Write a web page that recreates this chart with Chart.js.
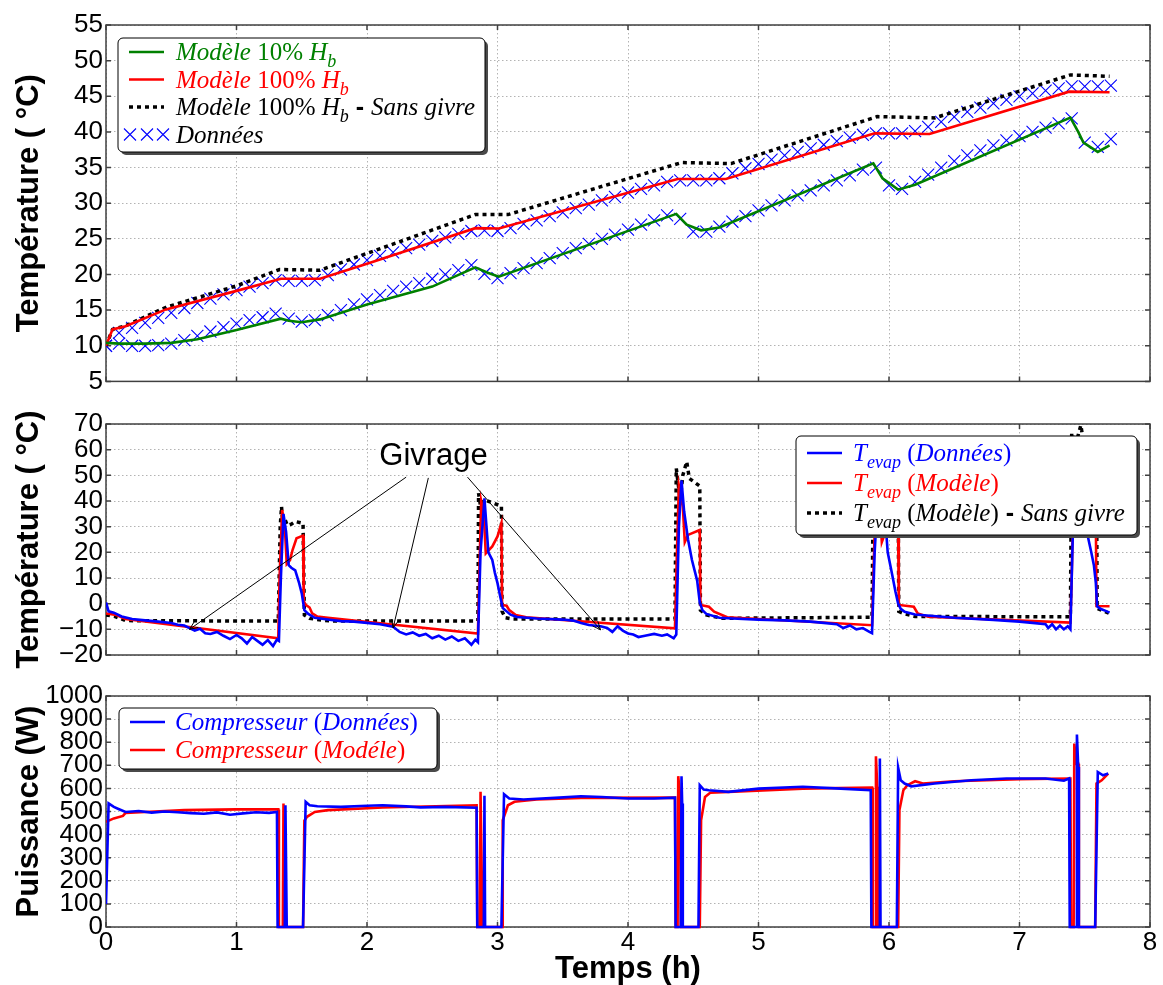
<!DOCTYPE html>
<html>
<head>
<meta charset="utf-8">
<script src="https://cdn.jsdelivr.net/npm/chart.js@4.4.1/dist/chart.umd.min.js"></script>
<style>
  body { margin: 0; background: #fff; }
  #wrap { position: relative; width: 1163px; height: 985px; }
  canvas { position: absolute; left: 0; }
</style>
</head>
<body>
<div id="wrap">
  <canvas id="top" width="1163" height="400" style="top:0px"></canvas>
  <canvas id="mid" width="1163" height="290" style="top:390px"></canvas>
  <canvas id="bot" width="1163" height="315" style="top:670px"></canvas>
</div>
<script>
// ---- tick labels ----
const hourTicks = [0, 1, 2, 3, 4, 5, 6, 7, 8];
const condTicks = [5, 10, 15, 20, 25, 30, 35, 40, 45, 50, 55];
const evapTicks = [-20, -10, 0, 10, 20, 30, 40, 50, 60, 70];
const powerTicks = [0, 100, 200, 300, 400, 500, 600, 700, 800, 900, 1000];

// ---- top panel: temperature ----
const model10Hours = [0, 0.1, 0.3, 0.5, 0.7, 1.0, 1.34, 1.4, 1.5, 1.64, 2.0, 2.5, 2.83, 2.93, 3.01, 4.37, 4.45, 4.56, 4.7, 5.88, 5.95, 6.07, 6.2, 7.39, 7.45, 7.49, 7.6, 7.69];
const model10 = [10.4, 10.3, 10.3, 10.4, 10.9, 12.2, 13.8, 13.5, 13.3, 13.7, 15.8, 18.3, 21.0, 20.2, 19.7, 28.5, 27.0, 26.2, 26.6, 35.6, 33.5, 31.9, 32.6, 42.0, 40.0, 38.5, 37.2, 38.1];

const model100Hours = [0, 0.05, 0.15, 0.46, 1.0, 1.34, 1.64, 2.0, 2.83, 3.01, 4.38, 4.75, 5.89, 6.31, 7.38, 7.69];
const model100 = [10.0, 12.3, 12.75, 15.1, 17.7, 19.4, 19.4, 21.5, 26.5, 26.45, 33.4, 33.4, 39.8, 39.7, 45.65, 45.56];

const noFrostHours = [0, 0.05, 0.15, 0.46, 1.0, 1.33, 1.64, 2.83, 3.08, 4.41, 4.79, 5.91, 6.35, 7.39, 7.69];
const noFrost = [10.0, 12.3, 12.8, 15.4, 18.4, 20.7, 20.6, 28.4, 28.4, 35.7, 35.56, 42.15, 41.96, 48.0, 47.8];

const dataHours = [0, 0.1, 0.2, 0.3, 0.4, 0.5, 0.6, 0.7, 0.8, 0.9, 1.0, 1.1, 1.2, 1.3, 1.4, 1.5, 1.6, 1.7, 1.8, 1.9,
  2.0, 2.1, 2.2, 2.3, 2.4, 2.5, 2.6, 2.7, 2.8, 2.9, 3.0, 3.1, 3.2, 3.3, 3.4, 3.5, 3.6, 3.7, 3.8, 3.9,
  4.0, 4.1, 4.2, 4.3, 4.4, 4.5, 4.6, 4.7, 4.8, 4.9, 5.0, 5.1, 5.2, 5.3, 5.4, 5.5, 5.6, 5.7, 5.8, 5.9,
  6.0, 6.1, 6.2, 6.3, 6.4, 6.5, 6.6, 6.7, 6.8, 6.9, 7.0, 7.1, 7.2, 7.3, 7.4, 7.5, 7.6, 7.7];
const dataHigh = [10.0, 11.8, 12.5, 13.2, 13.9, 14.6, 15.3, 16.0, 16.6, 17.2, 17.8, 18.3, 18.8, 19.2, 19.1, 19.1, 19.2, 19.9, 20.7, 21.4,
  22.0, 22.6, 23.1, 23.7, 24.2, 24.7, 25.2, 25.7, 26.1, 26.2, 26.1, 26.5, 27.1, 27.6, 28.2, 28.7, 29.3, 29.8, 30.4, 30.9,
  31.5, 32.0, 32.5, 33.0, 33.2, 33.2, 33.2, 33.5, 34.2, 34.9, 35.5, 36.1, 36.7, 37.2, 37.7, 38.2, 38.7, 39.2, 39.6, 39.8,
  39.8, 39.8, 40.1, 40.7, 41.4, 42.1, 42.8, 43.4, 44.0, 44.5, 45.0, 45.4, 45.8, 46.1, 46.4, 46.4, 46.4, 46.5];
const dataLow = [10.0, 10.3, 10.0, 10.0, 10.1, 10.3, 10.8, 11.4, 12.0, 12.6, 13.1, 13.6, 14.0, 14.5, 13.8, 13.4, 13.6, 14.3, 15.0, 15.8,
  16.5, 17.1, 17.7, 18.3, 18.8, 19.4, 20.0, 20.6, 21.3, 20.1, 19.5, 20.2, 20.9, 21.6, 22.3, 23.0, 23.7, 24.3, 25.0, 25.6,
  26.3, 27.0, 27.6, 28.3, 27.8, 26.0, 26.0, 26.7, 27.4, 28.2, 29.0, 29.7, 30.4, 31.1, 31.8, 32.5, 33.2, 33.9, 34.7, 35.0,
  32.5, 32.0, 33.0, 34.0, 35.0, 35.9, 36.7, 37.4, 38.1, 38.8, 39.4, 40.0, 40.6, 41.2, 41.9, 38.5, 37.9, 39.0];

// ---- middle panel: evaporator temperature ----
const evapDataHours = [0, 0.02, 0.06, 0.12, 0.2, 0.3, 0.4, 0.5, 0.55, 0.6, 0.64, 0.68, 0.72, 0.76, 0.8, 0.85, 0.9, 0.95, 1.0, 1.04,
  1.08, 1.12, 1.16, 1.2, 1.24, 1.28, 1.31, 1.325, 1.34, 1.36, 1.38, 1.4, 1.42, 1.45, 1.48, 1.5, 1.52, 1.55, 1.6, 1.7,
  1.8, 1.9, 2.0, 2.1, 2.2, 2.25, 2.3, 2.35, 2.4, 2.45, 2.5, 2.55, 2.6, 2.65, 2.7, 2.75, 2.8, 2.83, 2.85, 2.87,
  2.9, 2.93, 2.96, 2.98, 3.0, 3.02, 3.04, 3.07, 3.1, 3.15, 3.3, 3.5, 3.58, 3.64, 3.7, 3.79, 3.84, 3.88, 3.92, 3.96,
  4.0, 4.04, 4.08, 4.13, 4.2, 4.26, 4.3, 4.35, 4.37, 4.39, 4.41, 4.43, 4.46, 4.49, 4.53, 4.55, 4.57, 4.6, 4.7, 4.8,
  5.0, 5.2, 5.4, 5.5, 5.6, 5.65, 5.7, 5.75, 5.8, 5.85, 5.87, 5.89, 5.92, 5.95, 5.98, 5.99, 6.02, 6.05, 6.07, 6.09,
  6.12, 6.2, 6.5, 6.8, 7.0, 7.1, 7.2, 7.22, 7.25, 7.28, 7.31, 7.34, 7.37, 7.39, 7.41, 7.43, 7.46, 7.5, 7.52, 7.55,
  7.57, 7.585, 7.595, 7.62, 7.66, 7.69];
const evapData = [0.5, -3.0, -3.5, -5.0, -6.0, -6.5, -7.0, -7.5, -8.2, -8.5, -9.5, -10.5, -9.8, -11.5, -11.8, -11.0, -12.5, -13.8, -12.2, -13.5,
  -15.5, -13.0, -14.5, -16.0, -14.2, -16.5, -14.0, -14.5, 10.0, 35.0, 28.0, 15.0, 14.0, 13.0, 8.0, 4.0, -2.5, -4.0, -5.5, -6.2,
  -6.8, -7.0, -7.5, -8.0, -9.0, -11.0, -12.0, -11.2, -12.5, -11.8, -13.5, -12.5, -14.0, -12.8, -14.5, -13.5, -16.0, -14.0, -15.0, 20.0,
  41.0, 20.0, 17.0, 12.0, 8.0, 3.0, -1.7, -3.0, -4.3, -5.2, -5.8, -6.2, -6.6, -7.5, -8.3, -8.8, -9.5, -11.0, -8.8, -10.5,
  -11.6, -12.0, -13.0, -12.5, -11.8, -12.5, -12.0, -13.5, -12.0, 30.0, 48.0, 36.0, 25.0, 17.0, 9.0, 0.5, -2.5, -4.0, -5.5, -5.8,
  -6.2, -6.5, -7.0, -7.5, -8.0, -9.5, -8.5, -10.0, -9.5, -11.0, -11.5, 20.0, 47.0, 40.0, 27.0, 20.0, 12.4, 4.6, 0.0, -2.0,
  -3.2, -4.2, -5.5, -6.3, -7.0, -7.5, -8.0, -9.5, -8.0, -10.0, -8.5, -10.0, -8.8, -10.0, 30.0, 55.0, 48.0, 34.0, 27.0, 20.0,
  15.0, 8.0, -1.0, -2.0, -2.8, -3.5];

const evapModelHours = [0, 0.08, 0.15, 1.32, 1.33, 1.35, 1.37, 1.385, 1.41, 1.43, 1.46, 1.51, 1.515, 1.53, 1.56, 1.58, 1.62, 1.7,
  2.85, 2.86, 2.875, 2.895, 2.91, 2.96, 3.0, 3.03, 3.035, 3.07, 3.09, 3.14, 3.22,
  4.36, 4.375, 4.39, 4.42, 4.435, 4.46, 4.55, 4.555, 4.62, 4.66, 4.76,
  5.87, 5.88, 5.9, 5.93, 5.945, 5.97, 6.07, 6.075, 6.19, 6.22, 6.3,
  7.39, 7.40, 7.42, 7.45, 7.465, 7.49, 7.585, 7.59, 7.69];
const evapModel = [-3.8, -4.4, -6.0, -13.5, 10, 36.5, 30, 15.5, 17, 21, 25.5, 26.5, 1.0, -0.5, -1.5, -3.8, -5.0, -5.5,
  -11.6, 10, 40, 35, 19.6, 22.3, 26.2, 31.4, -0.5, -0.8, -2.5, -4.4, -5.3,
  -9.6, 20, 46.0, 37.8, 24.0, 26.8, 28.7, -0.5, -1.2, -3.1, -5.3,
  -8.4, 10, 45.0, 37.0, 24.0, 27.5, 29.0, -0.5, -1.2, -3.8, -5.1,
  -7.4, 10, 58.0, 48.0, 30.0, 32.0, 34.0, -0.9, -1.0];

const evapNoFrostHours = [0, 0.07, 0.15, 1.32, 1.335, 1.345, 1.355, 1.37, 1.39, 1.42, 1.45, 1.51, 1.52, 1.56, 1.65, 1.75,
  2.85, 2.855, 2.87, 2.9, 2.95, 3.03, 3.035, 3.06, 3.12,
  4.36, 4.37, 4.40, 4.42, 4.45, 4.47, 4.55, 4.555, 4.6, 4.72,
  5.87, 5.88, 5.9, 5.93, 5.96, 6.07, 6.075, 6.11, 6.2,
  7.39, 7.40, 7.43, 7.47, 7.5, 7.55, 7.59, 7.595, 7.69];
const evapNoFrost = [-4.4, -5.0, -6.6, -6.8, 30, 37.8, 31, 33, 30.5, 31, 32, 31.3, -4.4, -5.7, -6.4, -6.8,
  -6.8, 43, 38, 40.5, 39.5, 38, -3.0, -5.5, -6.0,
  -6.0, 52.7, 40.4, 50, 55.3, 48.8, 45.8, -2.5, -4.4, -5.7,
  -5.3, 50, 42, 55, 48, 45, -3.0, -3.8, -5.0,
  -5.1, 66.5, 62, 69.5, 60, 55, 52, -1.8, -3.8];

// ---- "Givrage" annotation ----
const givrageLabel = [2.51, 57.2];
const givrageFromHours = [2.3, 2.47, 2.77];
const givrageFromTemps = [49.3, 49.0, 49.3];
const givrageToHours = [0.64, 2.2, 3.79];
const givrageToTemps = [-10.0, -9.5, -10.2];

// ---- bottom panel: compressor power ----
const powerDataHours = [0, 0.02, 0.06, 0.1, 0.15, 0.25, 0.35, 0.45, 0.55, 0.65, 0.75, 0.85, 0.95, 1.05, 1.15, 1.25, 1.31, 1.315, 1.37, 1.375,
  1.385, 1.51, 1.53, 1.56, 1.62, 1.8, 2.0, 2.12, 2.3, 2.41, 2.6, 2.84, 2.845, 2.895, 2.9, 2.905, 3.03, 3.05, 3.09, 3.2,
  3.44, 3.64, 3.8, 4.0, 4.2, 4.36, 4.365, 4.405, 4.41, 4.415, 4.42, 4.54, 4.55, 4.58, 4.62, 4.77, 5.0, 5.34, 5.63, 5.86,
  5.865, 5.925, 5.93, 5.935, 6.06, 6.07, 6.09, 6.12, 6.17, 6.35, 6.63, 6.9, 7.2, 7.34, 7.38, 7.385, 7.435, 7.44, 7.45, 7.455,
  7.58, 7.6, 7.64, 7.68];
const powerData = [100, 535, 520, 510, 498, 502, 495, 500, 497, 493, 490, 496, 486, 492, 497, 494, 498, 0, 0, 527,
  0, 0, 542, 527, 523, 520, 525, 527, 522, 518, 520, 516, 0, 0, 568, 0, 0, 575, 556, 552,
  559, 566, 563, 556, 556, 560, 0, 0, 653, 535, 0, 0, 614, 595, 592, 585, 599, 607, 599, 592,
  0, 0, 729, 0, 0, 690, 635, 621, 609, 621, 635, 643, 643, 633, 643, 0, 0, 833, 693, 0,
  0, 671, 657, 664];

const powerModelHours = [0, 0.06, 0.13, 0.15, 0.3, 0.6, 1.0, 1.32, 1.325, 1.355, 1.36, 1.365, 1.51, 1.52, 1.54, 1.6, 1.7, 2.12, 2.84, 2.845,
  2.865, 2.87, 2.885, 3.035, 3.04, 3.08, 3.13, 3.3, 3.64, 4.36, 4.365, 4.38, 4.385, 4.4, 4.405, 4.55, 4.56, 4.59, 4.63, 4.77,
  5.34, 5.87, 5.875, 5.895, 5.9, 5.91, 5.915, 6.07, 6.08, 6.11, 6.14, 6.2, 6.26, 6.5, 7.0, 7.39, 7.395, 7.415, 7.42, 7.435,
  7.45, 7.455, 7.58, 7.59, 7.63, 7.68];
const powerModel = [455, 470, 481, 494, 498, 506, 509, 509, 0, 0, 535, 0, 0, 460, 477, 498, 506, 517, 527, 0,
  0, 585, 0, 0, 462, 527, 542, 552, 559, 560, 0, 0, 653, 560, 0, 0, 462, 563, 581, 585,
  599, 604, 0, 0, 739, 607, 0, 0, 506, 592, 614, 631, 621, 631, 640, 643, 0, 0, 794, 707,
  707, 0, 0, 621, 635, 664];

// ---- styling ----
const SANS = '"Liberation Sans", Arial, sans-serif';
const SERIF = '"Liberation Serif", "Times New Roman", serif';
const GRID = '#b3b3b3';
const AXIS_LEFT = 106;
const PAD_RIGHT = 13;
const GREEN = '#008000', RED = '#ff0000', BLUE = '#0000ff', BLACK = '#000000';

Chart.defaults.font.family = SANS;
Chart.defaults.color = '#000';

function pts(xs, ys) {
  return xs.map((x, i) => ({ x: x, y: ys[i] }));
}

function lineSet(label, xs, ys, color, width, dash) {
  return {
    label: label, data: pts(xs, ys), borderColor: color, backgroundColor: color,
    borderWidth: width, borderDash: dash || [], pointRadius: 0, tension: 0, fill: false
  };
}

function markerSet(label, xs, ys) {
  return {
    label: label, data: pts(xs, ys), showLine: false, borderColor: BLUE, backgroundColor: BLUE,
    pointStyle: 'crossRot', pointRadius: 8.5, pointBorderWidth: 1.1
  };
}

function yAxis(ticks, title) {
  return {
    type: 'linear', position: 'left', min: ticks[0], max: ticks[ticks.length - 1],
    afterBuildTicks: s => { s.ticks = ticks.map(v => ({ value: v })); },
    afterFit: s => { s.width = AXIS_LEFT; },
    grid: { color: GRID, lineWidth: 1, drawTicks: false },
    border: { display: false, dash: [1.5, 2.5] },
    ticks: {
      autoSkip: false, padding: 3, font: { size: 26 },
      callback: v => String(v).replace('-', '\u2212')
    },
    title: { display: true, text: title, font: { size: 31, weight: 'bold' }, padding: { top: 11, bottom: 0 } }
  };
}

function xAxis(showLabels, height) {
  return {
    type: 'linear', min: 0, max: 8,
    afterBuildTicks: s => { s.ticks = hourTicks.map(v => ({ value: v })); },
    afterFit: s => { s.height = height; },
    grid: { color: GRID, lineWidth: 1, drawTicks: false },
    border: { display: false, dash: [1.5, 2.5] },
    ticks: { display: showLabels, autoSkip: false, maxRotation: 0, padding: 0, font: { size: 26 } },
    title: { display: showLabels, text: 'Temps (h)', font: { size: 31, weight: 'bold', lineHeight: 1.0 }, padding: 0 }
  };
}

// axes box with inward ticks, drawn under the curves
const framePlugin = {
  id: 'frame',
  beforeDatasetsDraw(chart) {
    const { ctx, chartArea: a, scales } = chart;
    ctx.save();
    ctx.strokeStyle = '#404040';
    ctx.lineWidth = 1.5;
    ctx.beginPath();
    scales.x.ticks.forEach(t => {
      const px = scales.x.getPixelForValue(t.value);
      ctx.moveTo(px, a.bottom); ctx.lineTo(px, a.bottom - 5);
      ctx.moveTo(px, a.top); ctx.lineTo(px, a.top + 5);
    });
    scales.y.ticks.forEach(t => {
      const py = scales.y.getPixelForValue(t.value);
      ctx.moveTo(a.left, py); ctx.lineTo(a.left + 5, py);
      ctx.moveTo(a.right, py); ctx.lineTo(a.right - 5, py);
    });
    ctx.stroke();
    ctx.strokeRect(a.left, a.top, a.right - a.left, a.bottom - a.top);
    ctx.restore();
  }
};

function segFont(kind, size) {
  if (kind === 'i') return 'italic ' + size + 'px ' + SERIF;
  if (kind === 'sub') return 'italic ' + Math.round(size * 0.7) + 'px ' + SERIF;
  if (kind === 'b') return 'bold ' + size + 'px ' + SANS;
  return size + 'px ' + SERIF;
}

function drawRich(ctx, segs, x, y, size, color) {
  ctx.fillStyle = color;
  ctx.textAlign = 'left';
  ctx.textBaseline = 'alphabetic';
  segs.forEach(s => {
    ctx.font = segFont(s.k, size);
    const dy = s.k === 'sub' ? size * 0.28 : 0;
    ctx.fillText(s.t, x, y + dy);
    x += ctx.measureText(s.t).width;
  });
}

function roundRect(ctx, x, y, w, h, r) {
  ctx.beginPath();
  ctx.moveTo(x + r, y);
  ctx.arcTo(x + w, y, x + w, y + h, r);
  ctx.arcTo(x + w, y + h, x, y + h, r);
  ctx.arcTo(x, y + h, x, y, r);
  ctx.arcTo(x, y, x + w, y, r);
  ctx.closePath();
}

function drawCross(ctx, x, y, r) {
  const d = r * Math.SQRT1_2;
  ctx.beginPath();
  ctx.moveTo(x - d, y - d); ctx.lineTo(x + d, y + d);
  ctx.moveTo(x - d, y + d); ctx.lineTo(x + d, y - d);
  ctx.stroke();
}

function boxLegend(spec) {
  return {
    id: 'boxLegend',
    afterDatasetsDraw(chart) {
      const { ctx, chartArea: a } = chart;
      const bx = spec.right != null ? a.right - spec.right - spec.w : a.left + spec.left;
      const by = a.top + spec.top;
      ctx.save();
      roundRect(ctx, bx + 3, by + 3, spec.w, spec.h, 5);
      ctx.fillStyle = '#4a4a4a';
      ctx.fill();
      roundRect(ctx, bx, by, spec.w, spec.h, 5);
      ctx.fillStyle = '#fff';
      ctx.fill();
      ctx.strokeStyle = '#000';
      ctx.lineWidth = 1;
      ctx.stroke();
      spec.rows.forEach((r, i) => {
        const cy = by + spec.first + i * spec.step;
        const ds = chart.data.datasets[r.ds];
        ctx.strokeStyle = ds.borderColor;
        if (r.markers) {
          ctx.lineWidth = 1.1;
          [12, 29, 45].forEach(dx => drawCross(ctx, bx + dx, cy, 8.5));
        } else {
          ctx.lineWidth = ds.borderWidth;
          ctx.setLineDash(ds.borderDash || []);
          ctx.beginPath();
          ctx.moveTo(bx + 11, cy);
          ctx.lineTo(bx + 46, cy);
          ctx.stroke();
          ctx.setLineDash([]);
        }
        drawRich(ctx, r.segs, bx + spec.textX, cy + 8, spec.size, r.color);
      });
      ctx.restore();
    }
  };
}

const givragePlugin = {
  id: 'givrage',
  afterDatasetsDraw(chart) {
    const { ctx, scales: { x, y } } = chart;
    ctx.save();
    const tx = x.getPixelForValue(givrageLabel[0]);
    const ty = y.getPixelForValue(givrageLabel[1]);
    ctx.font = '31px ' + SANS;
    ctx.textAlign = 'center';
    ctx.textBaseline = 'middle';
    const w = ctx.measureText('Givrage').width;
    ctx.fillStyle = '#fff';
    ctx.fillRect(tx - w / 2 - 2, ty - 15, w + 4, 32);
    ctx.fillStyle = '#000';
    ctx.fillText('Givrage', tx, ty);
    ctx.strokeStyle = '#000';
    ctx.lineWidth = 1;
    givrageFromHours.forEach((h, i) => {
      const x0 = x.getPixelForValue(h), y0 = y.getPixelForValue(givrageFromTemps[i]);
      const x1 = x.getPixelForValue(givrageToHours[i]), y1 = y.getPixelForValue(givrageToTemps[i]);
      const ang = Math.atan2(y1 - y0, x1 - x0);
      ctx.beginPath();
      ctx.moveTo(x0, y0);
      ctx.lineTo(x1, y1);
      [0.4, -0.4].forEach(da => {
        ctx.moveTo(x1, y1);
        ctx.lineTo(x1 - 9 * Math.cos(ang + da), y1 - 9 * Math.sin(ang + da));
      });
      ctx.stroke();
    });
    ctx.restore();
  }
};

function baseOptions(top, xHeight, showX, yTicks, yTitle) {
  return {
    responsive: false, animation: false, events: [], devicePixelRatio: 1,
    layout: { padding: { left: 0, right: PAD_RIGHT, top: top, bottom: 0 } },
    plugins: { legend: { display: false }, tooltip: { enabled: false } },
    scales: { x: xAxis(showX, xHeight), y: yAxis(yTicks, yTitle) }
  };
}

const tempTitle = 'Température ( °C)';

// ---- top chart ----
new Chart(document.getElementById('top'), {
  type: 'line',
  data: {
    datasets: [
      lineSet('Modèle 10% Hb', model10Hours, model10, GREEN, 2.6),
      lineSet('Modèle 100% Hb', model100Hours, model100, RED, 2.6),
      lineSet('Modèle 100% Hb - Sans givre', noFrostHours, noFrost, BLACK, 3.5, [4, 4]),
      markerSet('Données', dataHours, dataHigh),
      markerSet('Données (10%)', dataHours, dataLow)
    ]
  },
  options: baseOptions(25, 18, false, condTicks, tempTitle),
  plugins: [framePlugin, boxLegend({
    left: 12, top: 13, w: 367, h: 114, first: 14, step: 27.5, textX: 58, size: 25,
    rows: [
      { ds: 0, color: GREEN, segs: [{ k: 'i', t: 'Modèle' }, { k: 'r', t: ' 10% ' }, { k: 'i', t: 'H' }, { k: 'sub', t: 'b' }] },
      { ds: 1, color: RED, segs: [{ k: 'i', t: 'Modèle' }, { k: 'r', t: ' 100% ' }, { k: 'i', t: 'H' }, { k: 'sub', t: 'b' }] },
      { ds: 2, color: BLACK, segs: [{ k: 'i', t: 'Modèle' }, { k: 'r', t: ' 100% ' }, { k: 'i', t: 'H' }, { k: 'sub', t: 'b' }, { k: 'b', t: ' - ' }, { k: 'i', t: 'Sans givre' }] },
      { ds: 3, color: BLACK, markers: true, segs: [{ k: 'i', t: 'Données' }] }
    ]
  })]
});

// ---- middle chart ----
new Chart(document.getElementById('mid'), {
  type: 'line',
  data: {
    datasets: [
      lineSet('Tevap (Données)', evapDataHours, evapData, BLUE, 2.6),
      lineSet('Tevap (Modèle)', evapModelHours, evapModel, RED, 2.6),
      lineSet('Tevap (Modèle) - Sans givre', evapNoFrostHours, evapNoFrost, BLACK, 3.5, [4, 4])
    ]
  },
  options: baseOptions(34, 25, false, evapTicks, tempTitle),
  plugins: [framePlugin, givragePlugin, boxLegend({
    right: 13, top: 12, w: 341, h: 99, first: 17, step: 30, textX: 57, size: 25,
    rows: [
      { ds: 0, color: BLUE, segs: [{ k: 'i', t: 'T' }, { k: 'sub', t: 'evap' }, { k: 'r', t: ' (' }, { k: 'i', t: 'Données' }, { k: 'r', t: ')' }] },
      { ds: 1, color: RED, segs: [{ k: 'i', t: 'T' }, { k: 'sub', t: 'evap' }, { k: 'r', t: ' (' }, { k: 'i', t: 'Modèle' }, { k: 'r', t: ')' }] },
      { ds: 2, color: BLACK, segs: [{ k: 'i', t: 'T' }, { k: 'sub', t: 'evap' }, { k: 'r', t: ' (' }, { k: 'i', t: 'Modèle' }, { k: 'r', t: ')' }, { k: 'b', t: ' - ' }, { k: 'i', t: 'Sans givre' }] }
    ]
  })]
});

// ---- bottom chart ----
const bottomSets = [
  lineSet('Compresseur (Données)', powerDataHours, powerData, BLUE, 2.6),
  lineSet('Compresseur (Modéle)', powerModelHours, powerModel, RED, 2.6)
];
bottomSets.forEach(ds => { ds.clip = { left: 0, top: 0, right: 0, bottom: 3 }; });

new Chart(document.getElementById('bot'), {
  type: 'line',
  data: { datasets: bottomSets },
  options: baseOptions(26, 58, true, powerTicks, 'Puissance (W)'),
  plugins: [framePlugin, boxLegend({
    left: 13, top: 12, w: 318, h: 61, first: 14, step: 28, textX: 56, size: 25,
    rows: [
      { ds: 0, color: BLUE, segs: [{ k: 'i', t: 'Compresseur ' }, { k: 'r', t: '(' }, { k: 'i', t: 'Données' }, { k: 'r', t: ')' }] },
      { ds: 1, color: RED, segs: [{ k: 'i', t: 'Compresseur ' }, { k: 'r', t: '(' }, { k: 'i', t: 'Modéle' }, { k: 'r', t: ')' }] }
    ]
  })]
});
</script>
</body>
</html>
